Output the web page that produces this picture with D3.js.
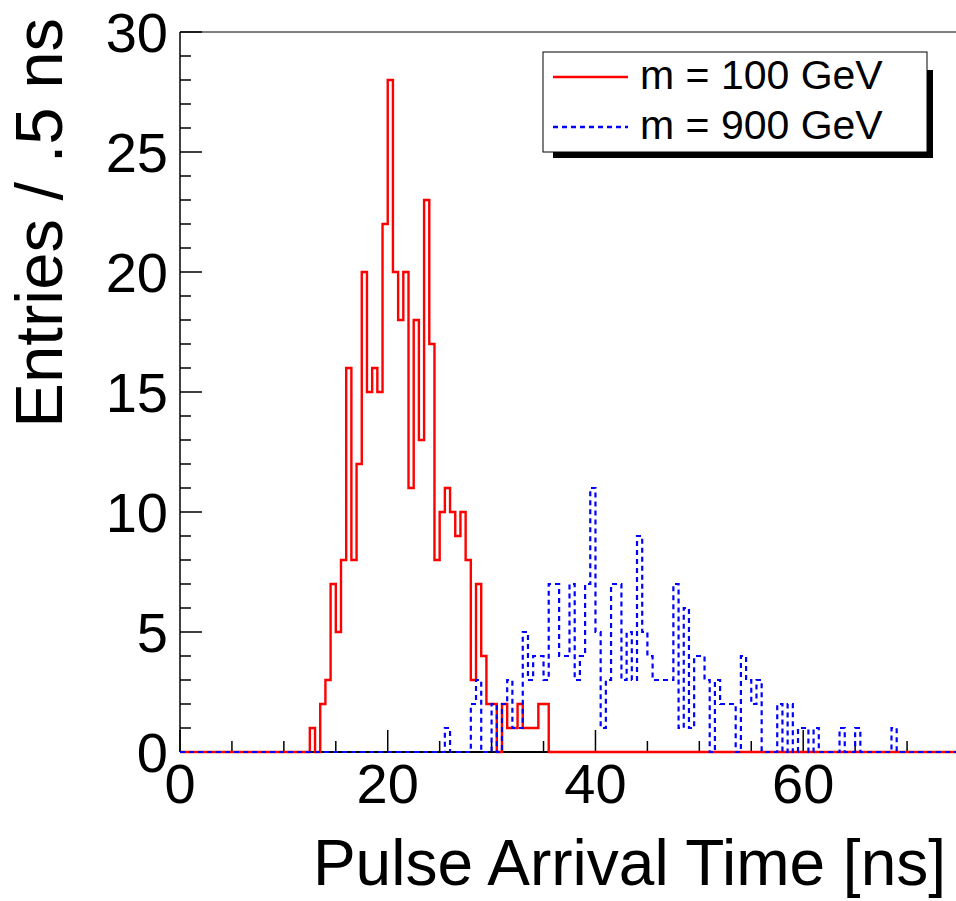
<!DOCTYPE html>
<html>
<head>
<meta charset="utf-8">
<script src="https://cdn.jsdelivr.net/npm/d3@7"></script>
<style>
  body { margin: 0; background: #fff; }
  text { font-family: "Liberation Sans", Arial, sans-serif; }
</style>
</head>
<body>
<div id="chart"></div>
<script>
// histogram contents, 0.5 ns bins
var binWidth = 0.5;
var redStart = 12.5;
var redCounts = [1,0,2,3,7,5,8,16,8,12,20,15,16,15,22,28,20,18,20,11,18,13,23,17,8,10,11,10,9,10,8,3,7,4,2,2,0,2,1,1,2,1,1,1,2,2];
var blueStart = 25.5;
var blueCounts = [1,0,0,0,0,2,3,0,0,2,0,2,3,1,1,5,3,4,4,3,7,7,4,4,7,3,4,7,11,5,1,3,7,7,3,5,3,9,5,4,3,3,3,3,7,1,6,1,4,4,3,0,3,2,2,2,0,4,3,2,3,0,0,0,2,0,2,0,1,1,0,1,0,0,0,0,1,0,0,1,0,0,0,0,0,0,1];
var xTicks = [0, 20, 40, 60];
var yTicks = [0, 5, 10, 15, 20, 25, 30];
var legendLabels = ["m = 100 GeV", "m = 900 GeV"];

//Width and height
var w = 956;
var h = 901;
var padL = 180, padR = 959, padT = 32, padB = 752;

var x = d3.scaleLinear().domain([0, 75]).range([padL, padR]);
var y = d3.scaleLinear().domain([0, 30]).range([padB, padT]);

var svg = d3.select("#chart")
            .append("svg")
            .attr("width", w)
            .attr("height", h);

svg.append("rect").attr("width", w).attr("height", h).attr("fill", "#fff");

// turn start + counts into full 0..75 bin list
function fullBins(start, counts) {
  var n = Math.round(75 / binWidth);
  var first = Math.round(start / binWidth);
  var pts = [];
  for (var i = 0; i < n; i++) {
    var c = (i >= first && i < first + counts.length) ? counts[i - first] : 0;
    pts.push([i * binWidth, c]);
  }
  pts.push([75, pts[n - 1][1]]);
  return pts;
}

var step = d3.line()
             .x(function(d) { return x(d[0]); })
             .y(function(d) { return y(d[1]); })
             .curve(d3.curveStepAfter);

//Frame
svg.append("line")
   .attr("x1", padL).attr("x2", w).attr("y1", padT).attr("y2", padT)
   .attr("stroke", "#000").attr("stroke-width", 1);

//Axes (ticks point inwards)
var xMinor = d3.range(0, 76, 5);
svg.selectAll("line.xminor")
   .data(xMinor)
   .enter().append("line")
   .attr("x1", function(d) { return x(d); })
   .attr("x2", function(d) { return x(d); })
   .attr("y1", padB)
   .attr("y2", function(d) { return xTicks.indexOf(d) >= 0 ? padB - 22 : padB - 11; })
   .attr("stroke", "#000").attr("stroke-width", 1.5);

var yMinor = d3.range(0, 31, 1);
svg.selectAll("line.yminor")
   .data(yMinor)
   .enter().append("line")
   .attr("y1", function(d) { return y(d); })
   .attr("y2", function(d) { return y(d); })
   .attr("x1", padL)
   .attr("x2", function(d) { return d % 5 == 0 ? padL + 22 : padL + 11; })
   .attr("stroke", "#000").attr("stroke-width", 1.5);

svg.append("line")
   .attr("x1", padL).attr("x2", w).attr("y1", padB).attr("y2", padB)
   .attr("stroke", "#000").attr("stroke-width", 2);
svg.append("line")
   .attr("x1", padL).attr("x2", padL).attr("y1", padT).attr("y2", padB)
   .attr("stroke", "#000").attr("stroke-width", 1.5);

svg.selectAll("text.xlab")
   .data(xTicks)
   .enter().append("text")
   .attr("x", function(d) { return x(d); })
   .attr("y", 803)
   .attr("text-anchor", "middle")
   .attr("font-size", 56)
   .text(function(d) { return d; });

svg.selectAll("text.ylab")
   .data(yTicks)
   .enter().append("text")
   .attr("x", 168)
   .attr("y", function(d) { return y(d) + 20; })
   .attr("text-anchor", "end")
   .attr("font-size", 56)
   .text(function(d) { return d; });

//Axis titles
svg.append("text")
   .attr("x", 946).attr("y", 885)
   .attr("text-anchor", "end")
   .attr("font-size", 64)
   .text("Pulse Arrival Time [ns]");

svg.append("text")
   .attr("transform", "translate(62,18) rotate(-90)")
   .attr("text-anchor", "end")
   .attr("font-size", 67)
   .text("Entries / .5 ns");

//Histograms
svg.append("path")
   .attr("d", step(fullBins(redStart, redCounts)))
   .attr("fill", "none")
   .attr("stroke", "#ff0000")
   .attr("stroke-width", 2.4);

svg.append("path")
   .attr("d", step(fullBins(blueStart, blueCounts)))
   .attr("fill", "none")
   .attr("stroke", "#0000ff")
   .attr("stroke-width", 2.2)
   .attr("stroke-dasharray", "5,4");

//Legend
var lx = 543, ly = 52, lw = 384, lh = 100;
svg.append("path")
   .attr("d", "M" + (lx + 10) + "," + (ly + lh) + "H" + (lx + lw + 6) + "V" + (ly + 18) +
              "H" + (lx + lw) + "V" + (ly + lh) + "Z")
   .attr("fill", "#000");
svg.append("path")
   .attr("d", "M" + (lx + 10) + "," + (ly + lh) + "V" + (ly + lh + 6) + "H" + (lx + lw + 6) + "V" + (ly + lh) + "Z")
   .attr("fill", "#000");
svg.append("rect")
   .attr("x", lx).attr("y", ly).attr("width", lw).attr("height", lh)
   .attr("fill", "#fff").attr("stroke", "#000").attr("stroke-width", 1);

var legend = svg.selectAll("g.leg")
                .data(legendLabels)
                .enter().append("g")
                .attr("transform", function(d, i) { return "translate(0," + (i * 50) + ")"; });

legend.append("line")
      .attr("x1", 553).attr("x2", 628).attr("y1", 77).attr("y2", 77)
      .attr("stroke", function(d, i) { return i == 0 ? "#ff0000" : "#0000ff"; })
      .attr("stroke-width", 2.4)
      .attr("stroke-dasharray", function(d, i) { return i == 0 ? null : "5,4"; });

legend.append("text")
      .attr("x", 640).attr("y", 89)
      .attr("font-size", 41)
      .text(function(d) { return d; });
</script>
</body>
</html>
